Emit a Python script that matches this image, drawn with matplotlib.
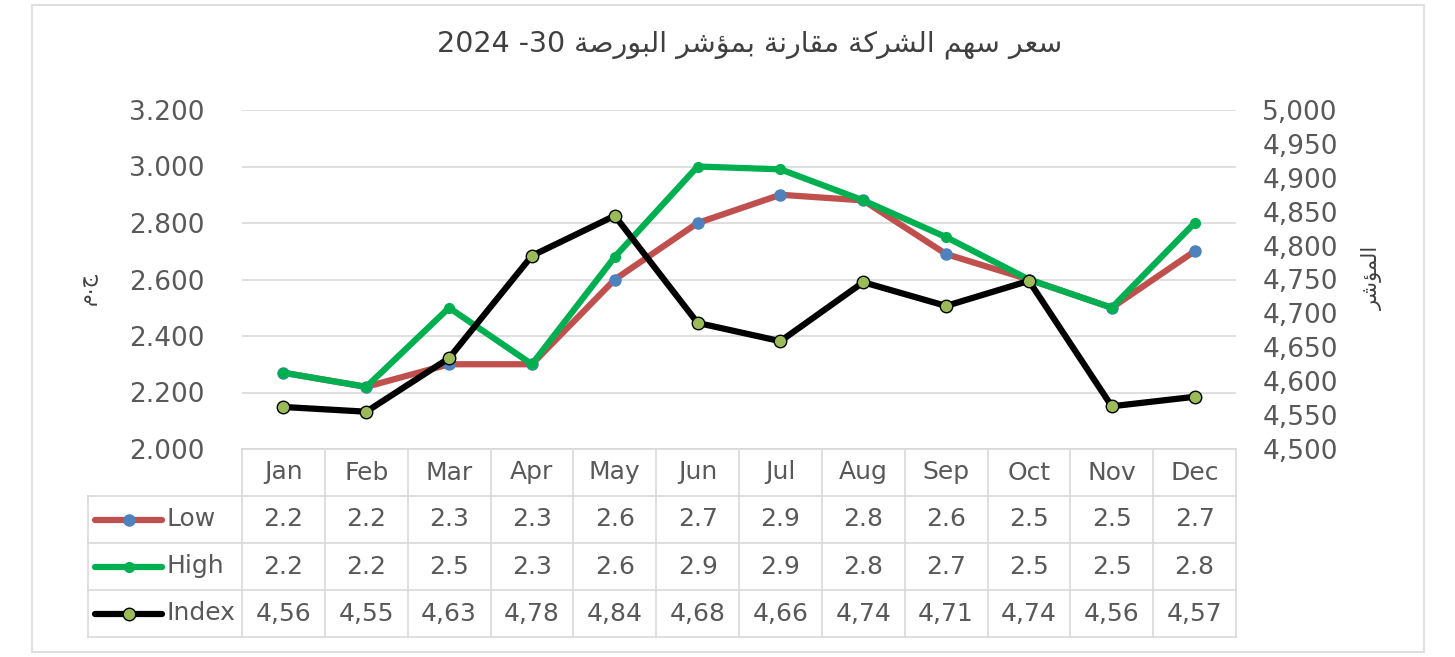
import matplotlib
matplotlib.use("Agg")
import matplotlib.pyplot as plt
from matplotlib.patches import Rectangle

# البيانات
months = ["Jan", "Feb", "Mar", "Apr", "May", "Jun",
          "Jul", "Aug", "Sep", "Oct", "Nov", "Dec"]
low = [2.27, 2.22, 2.30, 2.30, 2.60, 2.80, 2.90, 2.88, 2.69, 2.60, 2.50, 2.70]
high = [2.27, 2.22, 2.50, 2.30, 2.68, 3.00, 2.99, 2.88, 2.75, 2.60, 2.50, 2.80]
index_vals = [4562, 4555, 4634, 4785, 4844, 4686, 4659, 4746, 4711, 4748, 4563, 4577]

# نصوص جدول البيانات كما تظهر في الصورة
low_labels = ["2.2", "2.2", "2.3", "2.3", "2.6", "2.7", "2.9", "2.8", "2.6", "2.5", "2.5", "2.7"]
high_labels = ["2.2", "2.2", "2.5", "2.3", "2.6", "2.9", "2.9", "2.8", "2.7", "2.5", "2.5", "2.8"]
index_labels = ["4,56", "4,55", "4,63", "4,78", "4,84", "4,68", "4,66", "4,74", "4,71", "4,74", "4,56", "4,57"]

left_ticks = [2.0, 2.2, 2.4, 2.6, 2.8, 3.0, 3.2]
right_ticks = list(range(4500, 5001, 50))

title_ar = "سعر سهم الشركة مقارنة بمؤشر البورصة"
title_num = "2024 -30 "
ylabel_left = "ج.م"
ylabel_right = "المؤشر"

# تشكيل الحروف العربية يدويا (matplotlib لا يشكل العربية)
FORMS = {
    "ا": ("\ufe8d", "\ufe8e", None, None),
    "ب": ("\ufe8f", "\ufe90", "\ufe91", "\ufe92"),
    "ة": ("\ufe93", "\ufe94", None, None),
    "ج": ("\ufe9d", "\ufe9e", "\ufe9f", "\ufea0"),
    "ر": ("\ufead", "\ufeae", None, None),
    "س": ("\ufeb1", "\ufeb2", "\ufeb3", "\ufeb4"),
    "ش": ("\ufeb5", "\ufeb6", "\ufeb7", "\ufeb8"),
    "ص": ("\ufeb9", "\ufeba", "\ufebb", "\ufebc"),
    "ع": ("\ufec9", "\ufeca", "\ufecb", "\ufecc"),
    "ق": ("\ufed5", "\ufed6", "\ufed7", "\ufed8"),
    "ك": ("\ufed9", "\ufeda", "\ufedb", "\ufedc"),
    "ل": ("\ufedd", "\ufede", "\ufedf", "\ufee0"),
    "م": ("\ufee1", "\ufee2", "\ufee3", "\ufee4"),
    "ن": ("\ufee5", "\ufee6", "\ufee7", "\ufee8"),
    "ه": ("\ufee9", "\ufeea", "\ufeeb", "\ufeec"),
    "و": ("\ufeed", "\ufeee", None, None),
    "ؤ": ("\ufe85", "\ufe86", None, None),
}


def shape_ar(s):
    out = []
    for i, ch in enumerate(s):
        if ch not in FORMS:
            out.append(ch)
            continue
        prev = s[i - 1] if i > 0 else ""
        nxt = s[i + 1] if i < len(s) - 1 else ""
        jp = prev in FORMS and FORMS[prev][2] is not None
        jn = FORMS[ch][2] is not None and nxt in FORMS
        iso, fin, ini, med = FORMS[ch]
        if jp and jn:
            out.append(med)
        elif jp:
            out.append(fin)
        elif jn:
            out.append(ini)
        else:
            out.append(iso)
    return "".join(out)[::-1]


plt.rcParams["font.family"] = ["DejaVu Sans"]
txt = "#595959"
grid_c = "#D9D9D9"

W, H = 1455, 657
fig = plt.figure(figsize=(W / 100, H / 100), dpi=100)

# إطار المخطط
fig.patches.append(Rectangle((32 / W, 5 / H), (1424 - 32) / W, (652 - 5) / H,
                             transform=fig.transFigure, fill=False,
                             edgecolor=grid_c, lw=1.2))

ax = fig.add_axes([242 / W, (H - 449) / H, (1236 - 242) / W, (449 - 110) / H])
x = list(range(len(months)))

ax.plot(x, low, color="#C0504D", lw=4.5, marker="o", markersize=8,
        markerfacecolor="#4F81BD", markeredgecolor="#4F81BD", zorder=3)
ax.plot(x, high, color="#00B050", lw=4.5, marker="o", markersize=7,
        markerfacecolor="#00B050", markeredgecolor="#00B050", zorder=4)

ax.set_xlim(-0.5, 11.5)
ax.set_ylim(2.0, 3.2)
ax.set_yticks(left_ticks)
ax.set_yticklabels([f"{v:.3f}" for v in left_ticks])
ax.set_xticks([])
ax.tick_params(axis="y", length=0, pad=27, labelsize=19, labelcolor=txt)
ax.grid(axis="y", color=grid_c, lw=1.2)
ax.set_axisbelow(True)
for s in ax.spines.values():
    s.set_visible(False)

ax2 = ax.twinx()
ax2.plot(x, index_vals, color="black", lw=4.5, marker="o", markersize=9,
         markerfacecolor="#9BBB59", markeredgecolor="black", markeredgewidth=1)
ax2.set_ylim(4500, 5000)
ax2.set_yticks(right_ticks)
ax2.set_yticklabels([f"{v:,}" for v in right_ticks])
ax2.tick_params(axis="y", length=0, pad=19, labelsize=19, labelcolor=txt)
for s in ax2.spines.values():
    s.set_visible(False)

# العنوان والمحاور
fig.text(750 / W, 1 - 45 / H, title_num + shape_ar(title_ar), ha="center",
         va="center", fontsize=20.5, color="#404040")
fig.text(88 / W, 1 - 288 / H, shape_ar(ylabel_left), rotation=90, ha="center",
         va="center", fontsize=15, color="#404040")
fig.text(1372 / W, 1 - 278 / H, shape_ar(ylabel_right), rotation=90,
         ha="center", va="center", fontsize=15, color="#404040")

# جدول البيانات
col_px = (1236 - 242) / 12
lab_w = (242 - 88) / col_px
tax = fig.add_axes([88 / W, (H - 637) / H, (1236 - 88) / W, (637 - 449) / H])
tax.set_xlim(-0.5 - lab_w, 11.5)
tax.set_ylim(188, 0)
tax.axis("off")
xl = -0.5 - lab_w
rows = [0, 47, 94, 141, 188]
tax.plot([-0.5, 11.5], [0, 0], color=grid_c, lw=1.2, clip_on=False)
for r in rows[1:]:
    tax.plot([xl, 11.5], [r, r], color=grid_c, lw=1.2, clip_on=False)
tax.plot([xl, xl], [47, 188], color=grid_c, lw=1.2, clip_on=False)
for k in range(13):
    tax.plot([k - 0.5, k - 0.5], [0, 188], color=grid_c, lw=1.2, clip_on=False)

for i, m in enumerate(months):
    tax.text(i, 23.5, m, ha="center", va="center", fontsize=18, color=txt)

series_rows = [
    ("Low", low_labels, "#C0504D", "#4F81BD", "#4F81BD", 8),
    ("High", high_labels, "#00B050", "#00B050", "#00B050", 7),
    ("Index", index_labels, "black", "#9BBB59", "black", 9),
]
for j, (name, labels, lc, mfc, mec, ms) in enumerate(series_rows):
    yc = (rows[j + 1] + rows[j + 2]) / 2
    kx0 = (95 - 242) / col_px - 0.5
    kx1 = (162 - 242) / col_px - 0.5
    tax.plot([kx0, kx1], [yc, yc], color=lc, lw=4.5, solid_capstyle="round")
    tax.plot([(kx0 + kx1) / 2], [yc], marker="o", markersize=ms,
             markerfacecolor=mfc, markeredgecolor=mec, markeredgewidth=1)
    tax.text((166 - 242) / col_px - 0.5, yc, name, ha="left", va="center",
             fontsize=18, color=txt)
    for i, lab in enumerate(labels):
        tax.text(i, yc, lab, ha="center", va="center", fontsize=18, color=txt)

fig.savefig("out.png", dpi=100, facecolor="white")
